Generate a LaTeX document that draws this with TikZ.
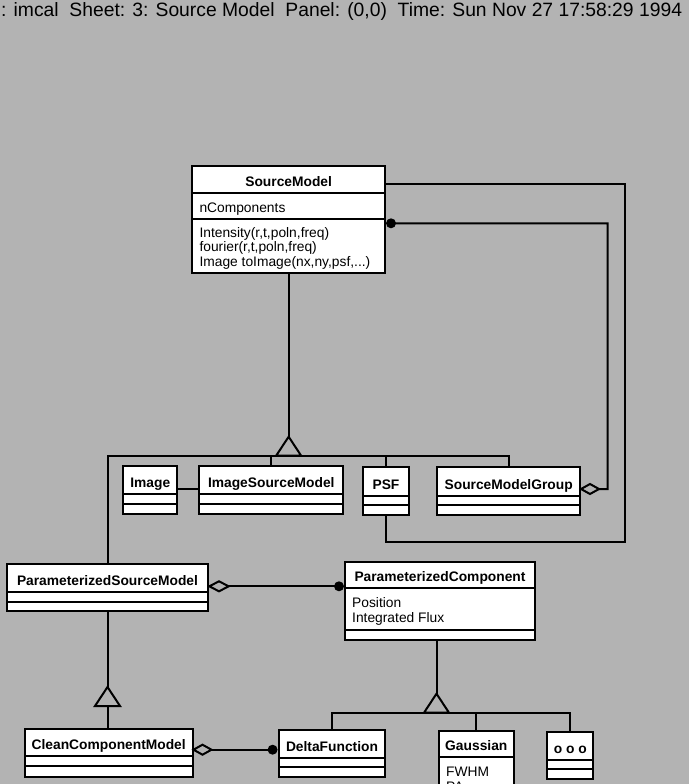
\documentclass[tikz,border=0pt]{standalone}
\usepackage{fontspec}
\setmainfont{Liberation Sans}
\usetikzlibrary{calc}
\definecolor{bg}{RGB}{179,179,179}
\tikzset{
  classbox/.style={draw=black, fill=white, line width=2pt, inner sep=0pt},
  divider/.style={line width=2pt},
  conn/.style={line width=2pt, line cap=rect},
  hollow/.style={line width=2pt, fill=bg, line join=miter},
  titletext/.style={font=\fontsize{13.8}{15}\selectfont\bfseries, anchor=base, inner sep=0pt},
  attrtext/.style={font=\fontsize{13.8}{15}\selectfont, anchor=base west, inner sep=0pt},
  hdrtext/.style={font=\fontsize{19.3}{21}\selectfont, anchor=base west, inner sep=0pt},
}
% name, x1, y1, x2, y2, divider1, divider2, title
\newcommand\umlclass[8]{%
  \node[classbox, minimum width={#4-#2}, minimum height={#5-#3}] (#1) at ({(#2+#4)/2},{(#3+#5)/2}) {};
  \draw[divider] (#2,#6) -- (#4,#6);
  \draw[divider] (#2,#7) -- (#4,#7);
  \node[titletext] (#1-title) at ({(#2+#4)/2},{#6-6.5}) {#8};
}
\begin{document}
\begin{tikzpicture}[x=1pt,y=-1pt]
\clip (0,0) rectangle (689,784);
\fill[bg] (0,0) rectangle (689,784);

\node[hdrtext] (hdr) at (1,16.7) {: imcal\ \ Sheet: 3: Source Model\ \ Panel: (0,0)\ \ Time: Sun Nov 27 17:58:29 1994};

% classes
\umlclass{SM}{192.3}{165.7}{385}{273.3}{193.3}{219}{SourceModel}
\node[attrtext] (SM-a1) at (199.3,212) {nComponents};
\node[attrtext] (SM-m1) at (199.3,237.3) {Intensity(r,t,poln,freq)};
\node[attrtext] (SM-m2) at (199.3,251.7) {fourier(r,t,poln,freq)};
\node[attrtext] (SM-m3) at (199.3,266) {Image toImage(nx,ny,psf,...)};

\umlclass{Image}{123.3}{465.7}{177.3}{514}{494}{503.5}{Image}
\umlclass{ISM}{199.3}{465.7}{343.3}{514}{494}{503.5}{ImageSourceModel}
\umlclass{PSF}{362.7}{466.7}{409.3}{515}{496}{505}{PSF}
\umlclass{SMG}{437.3}{466.7}{580}{515}{496}{505}{SourceModelGroup}

\umlclass{PSM}{6.7}{564.3}{208.3}{611}{592.3}{601.7}{ParameterizedSourceModel}
\umlclass{PC}{345}{561.7}{535}{640}{588.3}{630}{ParameterizedComponent}
\node[attrtext] (PC-a1) at (352,607.5) {Position};
\node[attrtext] (PC-a2) at (352,622.5) {Integrated Flux};

\umlclass{CCM}{24.9}{729.3}{192.5}{776.5}{756}{766}{CleanComponentModel}
\umlclass{DF}{278.6}{730}{385.4}{776.7}{758.3}{767.3}{DeltaFunction}
\umlclass{Gauss}{439}{730.7}{513.6}{830}{757.3}{810}{Gaussian}
\node[attrtext] (G-a1) at (446,776.7) {FWHM};
\node[attrtext] (G-a2) at (446,791.7) {PA};
\umlclass{ooo}{547.3}{731.7}{593.2}{779.3}{760}{769.3}{o o o}

% SourceModel -- PSF association
\coordinate (cA) at (625.3,541.7);
\draw[conn] ([yshift=-19pt]SM.north east) -| (cA) -| (PSF.south);

% SourceModel <>-- SourceModelGroup aggregation
\coordinate (dotA) at ([xshift=5pt,yshift=-58.6pt]SM.north east);
\coordinate (diaA) at ([yshift=1.85pt]SMG.east);
\coordinate (cB) at (607.7,489);
\draw[conn] (dotA) -| (cB) -- ([xshift=18pt]diaA);
\draw[hollow] (diaA) -- ++(9,-5) -- ++(9,5) -- ++(-9,5) -- cycle;
\fill (dotA) circle (5pt);

% inheritance from SourceModel
\coordinate (lvlA) at (0,455.7);
\coordinate (tA) at (SM.south |- lvlA);
\draw[conn] (SM.south) -- ([yshift=19pt]tA);
\draw[conn] (PSM.north) |- (SMG.north |- tA) -- (SMG.north);
\draw[conn] (ISM.north |- tA) -- (ISM.north);
\draw[conn] (PSF.north |- tA) -- (PSF.north);
\draw[hollow] ([xshift=-12.5pt]tA) -- ([yshift=19pt]tA) -- ([xshift=12.5pt]tA) -- cycle;

% Image -- ImageSourceModel
\coordinate (imgR) at ([yshift=-24.3pt]Image.north east);
\draw[conn] (imgR) -- (imgR -| ISM.west);

% ParameterizedSourceModel <>-- ParameterizedComponent
\coordinate (diaB) at ([yshift=-23pt]PSM.north east);
\coordinate (dotB) at ([xshift=-5pt]diaB -| PC.west);
\draw[conn] ([xshift=19.4pt]diaB) -- (dotB);
\draw[hollow] (diaB) -- ++(9.7,-5) -- ++(9.7,5) -- ++(-9.7,5) -- cycle;
\fill (dotB) circle (5pt);

% inheritance ParameterizedSourceModel -> CleanComponentModel
\coordinate (tB) at ([yshift=-94pt]PSM.south);
\draw[conn] (PSM.south) -- ([yshift=19pt]tB);
\draw[conn] (tB) -- (tB |- CCM.north);
\draw[hollow] ([xshift=-12.5pt]tB) -- ([yshift=19pt]tB) -- ([xshift=12.5pt]tB) -- cycle;

% CleanComponentModel <>-- DeltaFunction
\coordinate (diaC) at ([yshift=-21.4pt]CCM.north east);
\coordinate (dotC) at ([xshift=-5pt]diaC -| DF.west);
\draw[conn] ([xshift=18pt]diaC) -- (dotC);
\draw[hollow] (diaC) -- ++(9,-5) -- ++(9,5) -- ++(-9,5) -- cycle;
\fill (dotC) circle (5pt);

% inheritance from ParameterizedComponent
\coordinate (tC) at ([xshift=-3.5pt,yshift=-71.7pt]PC.south);
\draw[conn] (tC |- PC.south) -- ([yshift=19pt]tC);
\draw[conn] (DF.north) |- (ooo.north |- tC) -- (ooo.north);
\draw[conn] (Gauss.north |- tC) -- (Gauss.north);
\draw[hollow] ([xshift=-12.5pt]tC) -- ([yshift=19pt]tC) -- ([xshift=12.5pt]tC) -- cycle;
\end{tikzpicture}
\end{document}
